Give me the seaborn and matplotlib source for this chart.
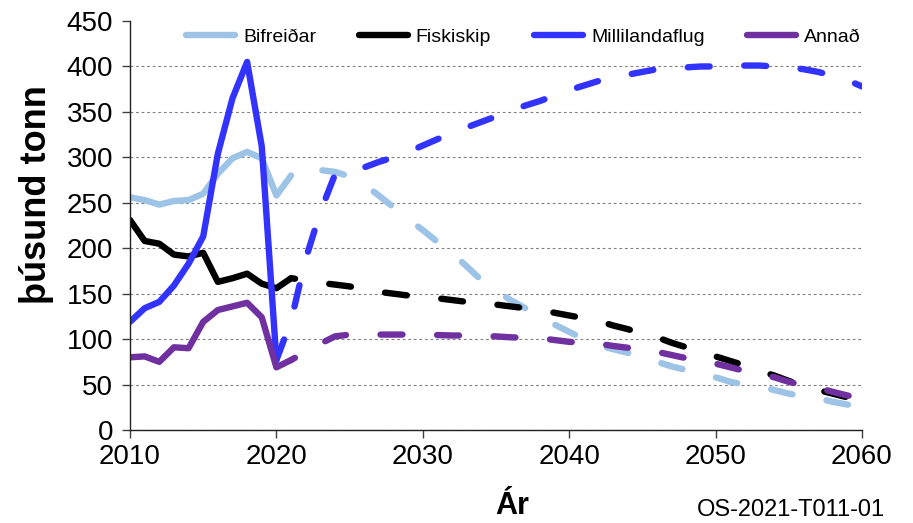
import numpy as np
import pandas as pd
import matplotlib
matplotlib.use("Agg")
import matplotlib.pyplot as plt
import seaborn as sns

# Söguleg gögn (heildregnar línur)
years_hist = list(range(2010, 2022))
bifreidar_hist = [256, 253, 248, 252, 253, 260, 282, 299, 306, 299, 258, 280]
fiskiskip_hist = [231, 208, 205, 193, 191, 195, 163, 167, 172, 161, 156, 167]
annad_hist = [80, 81, 75, 91, 90, 119, 132, 136, 140, 124, 69, 77]
years_flug_hist = list(range(2010, 2021))
flug_hist = [119, 134, 141, 159, 183, 213, 304, 365, 405, 312, 77]

# Spá (brotnar línur)
years_proj = list(range(2021, 2061))
bifreidar_proj = [280, 284, 286, 284, 279, 270, 258, 245, 232, 220,
                  207, 195, 180, 165, 153, 143, 134, 125, 116, 108,
                  100, 93, 89, 85, 80, 75, 70, 66, 62, 58,
                  53, 50, 48, 44, 40, 37, 35, 31, 28, 26]
fiskiskip_proj = [167, 165, 162, 160, 158, 155, 152, 150, 148, 147,
                  145, 143, 141, 140, 138, 136, 134, 132, 129, 126,
                  123, 120, 115, 111, 106, 102, 96, 91, 86, 81,
                  76, 71, 65, 60, 54, 49, 44, 40, 36, 33]
annad_proj = [77, 86, 95, 103, 105, 105, 105, 105, 105, 105,
              104.5, 104, 104, 103.5, 103, 102, 101.5, 101, 99, 97,
              96, 95, 92.5, 90.5, 88, 86, 82.5, 79, 77, 73,
              69, 65, 62, 58, 53, 49, 46.5, 42, 38, 35]
years_flug_proj = list(range(2020, 2061))
flug_proj = [77, 120, 188, 240, 281, 285, 289, 295, 300, 306,
             313, 320, 327, 333, 339, 345, 351, 357, 362, 368,
             374, 379, 384, 388, 391, 394, 397, 398, 399, 400,
             400, 400, 401, 401, 400, 399, 397, 394, 390, 385, 378]

labels = ["Bifreiðar", "Fiskiskip", "Millilandaflug", "Annað"]
colors = ["#9DC3E6", "#000000", "#3333FF", "#7030A0"]

sns.set_theme(style="white")
plt.rcParams["font.family"] = ["Liberation Sans", "DejaVu Sans"]
plt.rcParams["lines.scale_dashes"] = False
for key in ["text.color", "axes.labelcolor", "xtick.labelcolor", "ytick.labelcolor"]:
    plt.rcParams[key] = "black"

fig = plt.figure(figsize=(9.13, 5.23), dpi=100)
ax = fig.add_axes([0.1424, 0.1778, 0.8017, 0.7820])

lw = 4.6
on, off = 15.8, 24.9
series = [
    (years_hist, bifreidar_hist, years_proj, bifreidar_proj, 17.7),
    (years_hist, fiskiskip_hist, years_proj, fiskiskip_proj, 12.9),
    (years_flug_hist, flug_hist, years_flug_proj, flug_proj, 0.0),
    (years_hist, annad_hist, years_proj, annad_proj, 12.6),
]

for (xh, yh, xp, yp, offset), lab, col in zip(series, labels, colors):
    sns.lineplot(x=xh, y=yh, color=col, lw=lw, label=lab, ax=ax,
                 solid_capstyle="round", solid_joinstyle="round")
    sns.lineplot(x=xp, y=yp, color=col, lw=lw, ax=ax,
                 linestyle=(offset, (on, off)), dash_capstyle="round",
                 dash_joinstyle="round")

ax.set_xlim(2010, 2060)
ax.set_ylim(0, 450)
ax.set_xticks(range(2010, 2061, 10))
ax.set_yticks(range(0, 451, 50))
ax.tick_params(axis="both", which="major", direction="out", length=6,
               width=1, color="#404040", labelsize=20, pad=4,
               labelcolor="black", left=True, bottom=True)
ax.tick_params(axis="y", pad=6)

for side in ["top", "right"]:
    ax.spines[side].set_visible(False)
for side in ["left", "bottom"]:
    ax.spines[side].set_color("#202020")
    ax.spines[side].set_linewidth(1)

ax.yaxis.grid(True, color="#808080", linestyle=(0, (2, 2)), linewidth=0.8)
ax.set_axisbelow(True)
ax.get_ygridlines()[-1].set_visible(False)

ax.set_xlabel("Ár", fontsize=22, fontweight="bold", color="black")
ax.xaxis.set_label_coords((512 - 130) / 732, -0.148)
ax.set_ylabel("þúsund tonn", fontsize=26, fontweight="bold", color="black")
ax.yaxis.set_label_coords((54 - 130) / 732, 0.575)

ax.legend(loc="center left", bbox_to_anchor=((186 - 130) / 732, (430 - 37) / 409),
          ncol=4, frameon=False, fontsize=14, handlelength=2.52,
          handletextpad=0.41, columnspacing=2.2, borderpad=0, borderaxespad=0)

fig.text(885 / 913, 2 / 523, "OS-2021-T011-01", ha="right", va="bottom",
         fontsize=17, color="black")

fig.savefig("out.png", dpi=100)
plt.close(fig)
